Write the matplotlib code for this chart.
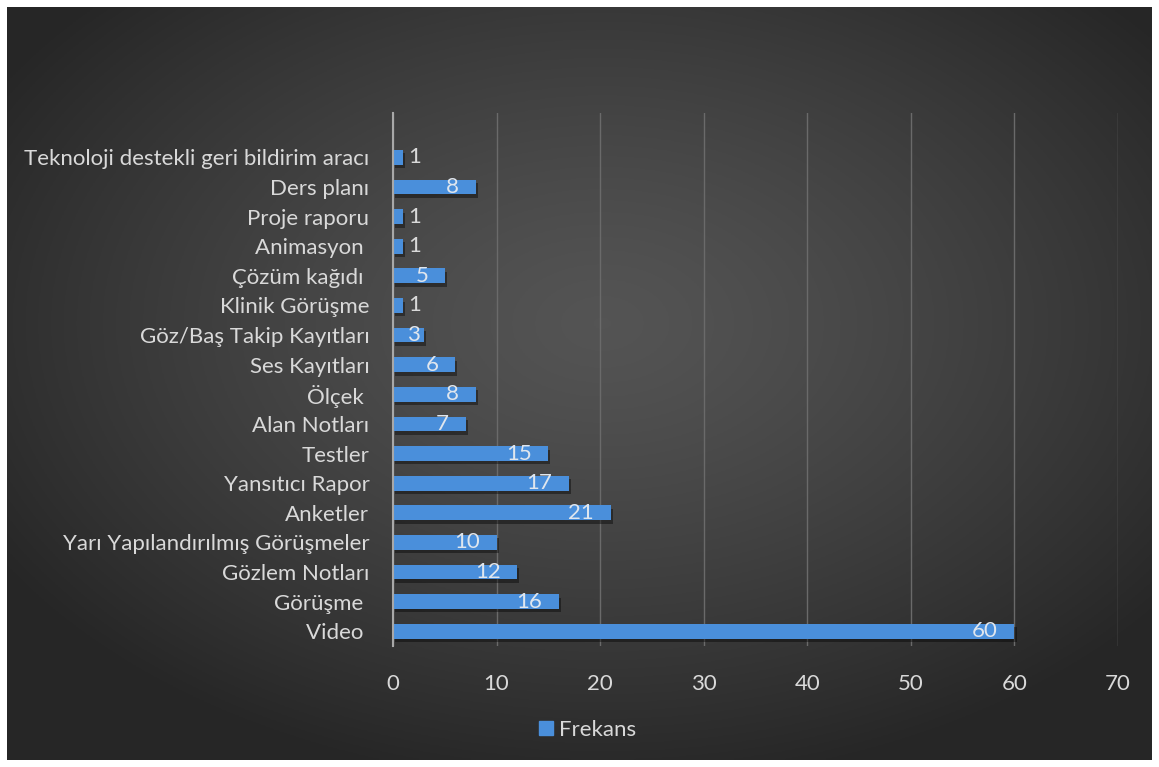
import matplotlib
matplotlib.use("Agg")
import matplotlib.pyplot as plt
import matplotlib.patheffects as pe
import numpy as np

# categories listed bottom -> top
kategoriler = ["Video ", "Görüşme ", "Gözlem Notları", "Yarı Yapılandırılmış Görüşmeler",
               "Anketler", "Yansıtıcı Rapor", "Testler", "Alan Notları", "Ölçek ",
               "Ses Kayıtları", "Göz/Baş Takip Kayıtları", "Klinik Görüşme",
               "Çözüm kağıdı ", "Animasyon ", "Proje raporu", "Ders planı",
               "Teknoloji destekli geri bildirim aracı"]
frekans = [60, 16, 12, 10, 21, 17, 15, 7, 8, 6, 3, 1, 5, 1, 1, 8, 1]
x_ticks = [0, 10, 20, 30, 40, 50, 60, 70]

W, H = 1159, 767
fig = plt.figure(figsize=(W / 100, H / 100), dpi=100, facecolor="white")
plt.rcParams["font.family"] = ["Lato", "DejaVu Sans"]

# dark radial background
bg = fig.add_axes([7 / W, 7 / H, 1145 / W, 753 / H])
bg.set_axis_off()
yy, xx = np.mgrid[0:1:300j, 0:1:400j]
r = np.sqrt(((xx - 0.52) / 0.62) ** 2 + ((yy - 0.58) / 0.62) ** 2)
r = np.clip(r, 0, 1)
shade = 0.33 - 0.18 * r ** 1.3
img = np.dstack([shade, shade, shade])
bg.imshow(img, extent=[0, 1, 0, 1], aspect="auto", origin="lower")
bg.set_xlim(0, 1)
bg.set_ylim(0, 1)

txt = "#d9d9d9"
fs = 16
ax = fig.add_axes([393 / W, 1 - 646 / H, (1118 - 393) / W, (646 - 113) / H])
ax.patch.set_alpha(0)

y = np.arange(len(kategoriler))
bars = ax.barh(y, frekans, height=0.5, color="#4a8fdb", zorder=3)
for b in bars:
    b.set_path_effects([pe.SimplePatchShadow(offset=(1.5, -2.5), shadow_rgbFace="black", alpha=0.4),
                        pe.Normal()])

for yi, v in zip(y, frekans):
    if v < 2:
        ax.text(v + 0.5, yi, str(v), ha="left", va="center", color=txt, fontsize=fs, zorder=4)
    else:
        ax.text(max(v - 1.6, 2.6), yi, str(v), ha="right", va="center", color="#dfe6ee",
                fontsize=fs, zorder=4)

ax.set_xlim(0, 70)
ax.set_ylim(-0.5, len(kategoriler) + 0.5)
ax.set_xticks(x_ticks)
ax.set_yticks(y)
ax.set_yticklabels(kategoriler)
ax.tick_params(axis="both", length=0, colors=txt, labelsize=fs)
ax.tick_params(axis="x", pad=20)
ax.tick_params(axis="y", pad=17)
ax.grid(axis="x", color="#6a6a6a", linewidth=1, zorder=0)
for s in ["top", "right", "bottom"]:
    ax.spines[s].set_visible(False)
ax.spines["left"].set_color("#a8a8a8")
ax.spines["left"].set_linewidth(1.5)
ax.spines["left"].set_zorder(5)

leg = fig.legend([plt.Rectangle((0, 0), 1, 1, color="#4a8fdb")], ["Frekans"], loc="center",
                 bbox_to_anchor=(588 / W, 1 - 730 / H), frameon=False, fontsize=fs,
                 labelcolor=txt, handlelength=0.6, handleheight=0.6, handletextpad=0.3)

fig.savefig("out.png", dpi=100, facecolor="white")
